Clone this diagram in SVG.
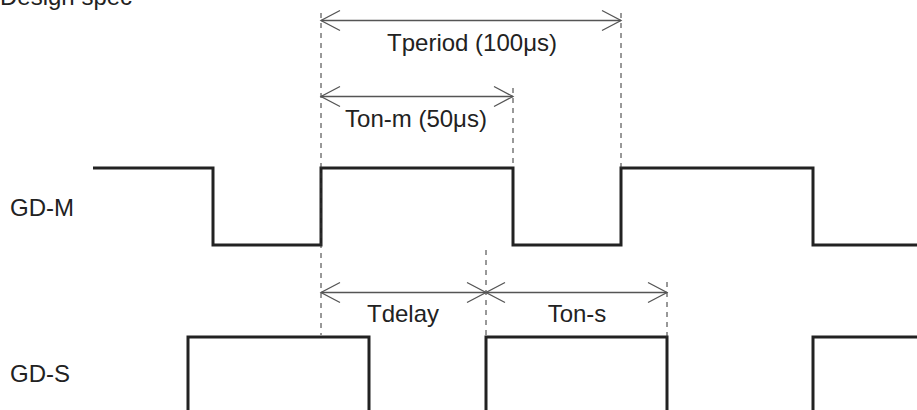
<svg xmlns="http://www.w3.org/2000/svg" width="917" height="410" viewBox="0 0 917 410">
<style>
text{font-family:"Liberation Sans",Arial,sans-serif;font-size:24px;fill:#222}
.wave{fill:none;stroke:#222;stroke-width:3;stroke-linejoin:miter;stroke-linecap:butt}
.dash{fill:none;stroke:#333;stroke-width:1;stroke-dasharray:5 5}
.dim{fill:none;stroke:#555;stroke-width:1.3;marker-start:url(#chev);marker-end:url(#chev)}
</style>
<defs>
<marker id="chev" markerUnits="userSpaceOnUse" markerWidth="24" markerHeight="24" refX="21" refY="11" orient="auto-start-reverse" overflow="visible">
<path d="M2,1 L21,11 L2,21" fill="none" stroke="#555" stroke-width="1.3"/>
</marker>
</defs>
<rect width="917" height="410" fill="#fff"/>
<g id="title"><text x="0" y="4.5">Design spec</text></g>
<g id="gd-m">
<text x="10" y="216">GD-M</text>
<path class="wave" d="M93,168 H213 V245 H321 V168 H513 V245 H621 V168 H813 V245 H917"/>
</g>
<g id="gd-s">
<text x="10" y="382">GD-S</text>
<path class="wave" d="M188,412 V337 H369 V412 M486,412 V337 H667 V412 M813,412 V337 H919"/>
</g>
<g id="connectors">
<line class="dash" x1="321" y1="13" x2="321" y2="335"/>
<line class="dash" x1="513" y1="88" x2="513" y2="168"/>
<line class="dash" x1="621" y1="13" x2="621" y2="168"/>
<line class="dash" x1="486" y1="250" x2="486" y2="337"/>
<line class="dash" x1="667" y1="282" x2="667" y2="337"/>
<line class="dim" x1="321" y1="20.5" x2="621" y2="20.5"/>
<line class="dim" x1="321" y1="96.5" x2="513" y2="96.5"/>
<line class="dim" x1="321" y1="292.5" x2="486" y2="292.5"/>
<line class="dim" x1="486" y1="292.5" x2="667" y2="292.5"/>
</g>
<g id="labels">
<text x="472" y="51" text-anchor="middle">Tperiod (100μs)</text>
<text x="416" y="127" text-anchor="middle">Ton-m (50μs)</text>
<text x="403" y="322" text-anchor="middle">Tdelay</text>
<text x="577" y="322" text-anchor="middle">Ton-s</text>
</g>
</svg>
